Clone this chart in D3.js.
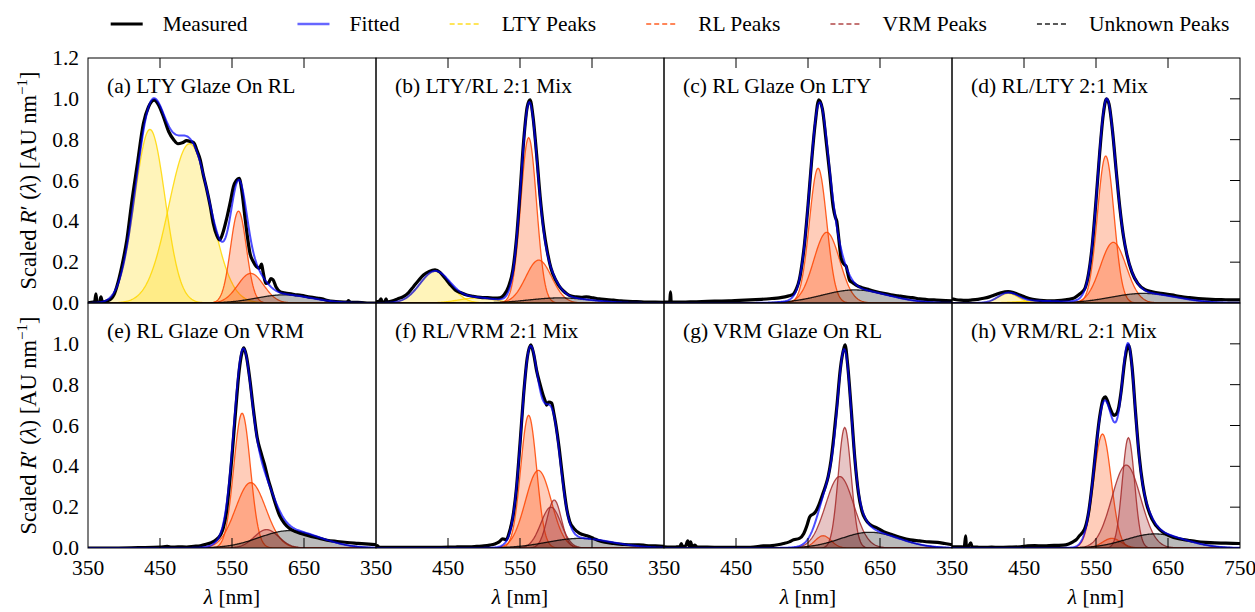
<!DOCTYPE html>
<html>
<head>
<meta charset="utf-8">
<script src="https://cdn.jsdelivr.net/npm/d3@7"></script>
<style>
  body { margin: 0; background: #fff; }
  svg text { font-family: "Liberation Serif", "Times New Roman", serif; fill: #000; }
</style>
</head>
<body>
<svg id="chart" width="1255" height="612"></svg>
<script>
// ---- data ----
var panelTitles = ["(a) LTY Glaze On RL", "(b) LTY/RL 2:1 Mix", "(c) RL Glaze On LTY", "(d) RL/LTY 2:1 Mix",
                   "(e) RL Glaze On VRM", "(f) RL/VRM 2:1 Mix", "(g) VRM Glaze On RL", "(h) VRM/RL 2:1 Mix"];
var xTickValues = [350, 450, 550, 650, 750];
var yTickValues = [0, 0.2, 0.4, 0.6, 0.8, 1.0, 1.2];
var legendLabels = ["Measured", "Fitted", "LTY Peaks", "RL Peaks", "VRM Peaks", "Unknown Peaks"];

// fitted peaks: [type, centre nm, height, width nm]
var peaksA = [["LTY", 436, 0.85, 21], ["LTY", 491, 0.78, 29], ["RL", 559, 0.45, 11], ["RL", 576, 0.145, 18], ["Unknown", 622, 0.04, 38]];
var peaksB = [["LTY", 432, 0.155, 21], ["LTY", 490, 0.025, 25], ["RL", 562, 0.81, 11], ["RL", 576, 0.21, 18], ["Unknown", 605, 0.025, 42]];
var peaksC = [["RL", 564, 0.66, 12], ["RL", 576, 0.346, 18], ["Unknown", 615, 0.064, 45]];
var peaksD = [["LTY", 428, 0.047, 14], ["LTY", 470, 0.01, 30], ["RL", 563.5, 0.72, 11.5], ["RL", 574, 0.297, 18], ["Unknown", 616, 0.047, 45]];
var peaksE = [["RL", 564, 0.66, 11.5], ["RL", 576, 0.32, 21], ["VRM", 598, 0.09, 17], ["Unknown", 630, 0.085, 42]];
var peaksF = [["RL", 562, 0.65, 11], ["RL", 575.5, 0.38, 18], ["VRM", 597.5, 0.235, 10], ["VRM", 593, 0.2, 14], ["Unknown", 633, 0.047, 45]];
var peaksG = [["RL", 571, 0.06, 11], ["VRM", 601, 0.59, 9], ["VRM", 594, 0.35, 19.5], ["Unknown", 636, 0.077, 40]];
var peaksH = [["RL", 559, 0.558, 12], ["RL", 572, 0.047, 13], ["VRM", 595, 0.54, 8.5], ["VRM", 592, 0.406, 20], ["Unknown", 632, 0.069, 40]];

// measured spectra: [nm, value]
var measuredA = [[350,0],[357,0.005],[359,0],[361,0.045],[362.5,0],[366,0.005],[368,0.03],[370,0.005],[376,0.01],[382,0.02],[386,0.04],[390,0.08],[397,0.18],[404,0.31],[411,0.5],[418,0.667],[427,0.88],[434,0.96],[442,0.994],[448,0.97],[455,0.91],[462,0.84],[469,0.8],[475,0.78],[481,0.785],[487,0.795],[493,0.79],[497,0.785],[501,0.75],[506,0.7],[510,0.63],[515,0.555],[520,0.47],[524,0.39],[529,0.33],[533,0.309],[537,0.34],[543,0.42],[548,0.5],[552,0.57],[556,0.6],[560,0.61],[564,0.54],[568,0.42],[572,0.31],[575,0.243],[580,0.2],[584,0.178],[588,0.17],[591,0.19],[593,0.155],[597,0.096],[601,0.1],[604,0.12],[607,0.114],[611,0.08],[617,0.055],[622,0.05],[626,0.047],[632,0.045],[638,0.04],[644,0.039],[650,0.035],[656,0.03],[662,0.028],[668,0.024],[675,0.02],[683,0.012],[691,0.008],[700,0.006],[710,0.005],[712,0.012],[714,0.004],[722,0.003],[730,0.002],[740,0],[750,0]];
var measuredB = [[350,0.005],[355,0.01],[357,0.02],[358.5,0.005],[362,0.005],[364,0.02],[365.5,0.005],[372,0.01],[380,0.02],[388,0.031],[395,0.05],[402,0.08],[409,0.11],[416,0.137],[424,0.155],[432,0.162],[439,0.15],[446,0.121],[453,0.09],[460,0.064],[468,0.05],[476,0.039],[485,0.033],[495,0.028],[505,0.026],[515,0.024],[522,0.025],[528,0.04],[534,0.08],[540,0.16],[545,0.31],[550,0.54],[555,0.79],[560,0.96],[564,0.995],[568,0.915],[573,0.73],[578,0.52],[583,0.36],[588,0.25],[593,0.17],[600,0.11],[605,0.08],[610,0.06],[615,0.045],[620,0.035],[628,0.03],[635,0.028],[642,0.03],[647,0.028],[652,0.025],[660,0.02],[670,0.017],[680,0.014],[690,0.01],[700,0.008],[712,0.007],[725,0.005],[738,0.004],[750,0.003]];
var measuredC = [[350,0.005],[355,0.005],[358,0.006],[359,0.055],[360,0.006],[368,0.004],[380,0.005],[395,0.006],[410,0.008],[425,0.009],[440,0.01],[455,0.013],[470,0.015],[485,0.018],[500,0.022],[510,0.025],[518,0.03],[524,0.035],[530,0.045],[534,0.07],[538,0.115],[542,0.2],[545,0.285],[550,0.476],[555,0.695],[560,0.88],[565,0.995],[570,0.95],[575,0.8],[580,0.64],[585,0.47],[588,0.42],[590,0.4],[592,0.34],[596,0.22],[600,0.19],[603,0.18],[605,0.15],[608,0.11],[612,0.1],[618,0.085],[625,0.075],[635,0.065],[645,0.055],[655,0.047],[665,0.04],[675,0.035],[685,0.03],[695,0.026],[705,0.02],[715,0.017],[725,0.015],[735,0.013],[750,0.011]];
var measuredD = [[350,0.02],[356,0.016],[362,0.014],[370,0.013],[378,0.015],[386,0.018],[394,0.023],[402,0.03],[410,0.04],[418,0.05],[428,0.056],[436,0.05],[444,0.039],[452,0.028],[462,0.018],[472,0.013],[482,0.011],[492,0.011],[502,0.013],[512,0.018],[520,0.025],[526,0.04],[531,0.055],[535,0.075],[540,0.15],[545,0.29],[550,0.5],[555,0.73],[560,0.92],[564.5,1],[568,0.975],[573,0.84],[578,0.65],[583,0.47],[588,0.33],[593,0.235],[600,0.15],[608,0.096],[618,0.065],[628,0.055],[640,0.047],[655,0.04],[668,0.031],[680,0.026],[692,0.022],[704,0.019],[716,0.017],[730,0.016],[740,0.015],[750,0.015]];
var measuredE = [[350,0],[380,0],[420,0.002],[450,0.004],[460,0.008],[466,0.004],[475,0.006],[487,0.005],[497,0.008],[506,0.011],[514,0.018],[520,0.025],[526,0.035],[531,0.05],[535,0.07],[538,0.1],[542,0.17],[545,0.26],[550,0.45],[555,0.67],[560,0.87],[564,0.96],[566.5,0.98],[570,0.94],[575,0.82],[580,0.67],[585,0.54],[590,0.47],[595,0.41],[600,0.34],[605,0.28],[610,0.22],[616,0.16],[623,0.12],[630,0.095],[640,0.078],[654,0.063],[668,0.05],[682,0.038],[696,0.032],[710,0.027],[725,0.023],[740,0.019],[750,0.016]];
var measuredF = [[350,0.006],[352,0.012],[354,0.004],[370,0.003],[400,0.003],[430,0.003],[452,0.004],[460,0.005],[470,0.006],[480,0.006],[490,0.008],[500,0.01],[508,0.014],[515,0.02],[521,0.03],[526,0.045],[531,0.04],[535,0.075],[540,0.15],[545,0.29],[550,0.51],[555,0.75],[560,0.93],[565,0.995],[569,0.95],[573,0.87],[578,0.8],[582,0.75],[585,0.72],[587,0.7],[590,0.715],[594,0.71],[597,0.66],[600,0.6],[604,0.5],[608,0.38],[611,0.29],[615,0.19],[619,0.13],[625,0.095],[633,0.072],[643,0.06],[652,0.047],[660,0.035],[668,0.028],[680,0.022],[692,0.018],[705,0.015],[715,0.016],[725,0.012],[738,0.01],[750,0.008]];
var measuredG = [[350,0.006],[358,0.004],[366,0.005],[372,0.006],[374,0.022],[376,0.006],[380,0.01],[383,0.035],[385,0.006],[387,0.03],[389,0.006],[393,0.014],[396,0.004],[410,0.004],[430,0.003],[450,0.003],[470,0.003],[488,0.01],[500,0.012],[508,0.016],[516,0.022],[524,0.03],[530,0.04],[538,0.047],[544,0.07],[549,0.115],[552,0.15],[554,0.16],[557,0.165],[560,0.175],[565,0.21],[570,0.26],[574,0.3],[578,0.35],[582,0.43],[586,0.55],[590,0.69],[595,0.88],[600,0.98],[601.5,0.995],[605,0.9],[610,0.68],[615,0.44],[620,0.27],[625,0.18],[630,0.14],[636,0.115],[645,0.1],[655,0.08],[668,0.064],[680,0.05],[692,0.04],[705,0.035],[718,0.03],[730,0.028],[740,0.022],[750,0.016]];
var measuredH = [[350,0.006],[360,0.006],[367,0.005],[369,0.06],[370,0.005],[373,0.008],[376,0.025],[378,0.005],[385,0.004],[395,0.003],[405,0.004],[415,0.003],[430,0.004],[445,0.006],[455,0.01],[465,0.012],[475,0.01],[485,0.012],[495,0.013],[505,0.014],[512,0.02],[518,0.03],[523,0.042],[527,0.06],[531,0.075],[535,0.1],[540,0.18],[545,0.32],[550,0.49],[555,0.64],[560,0.73],[563,0.74],[566,0.72],[570,0.68],[575,0.65],[578,0.655],[581,0.68],[585,0.77],[590,0.92],[595,0.995],[600,0.89],[605,0.66],[610,0.45],[615,0.31],[620,0.22],[628,0.14],[640,0.085],[652,0.06],[665,0.045],[678,0.038],[690,0.032],[702,0.028],[715,0.025],[728,0.024],[740,0.023],[750,0.022]];

var allPeaks = [peaksA, peaksB, peaksC, peaksD, peaksE, peaksF, peaksG, peaksH];
var allMeasured = [measuredA, measuredB, measuredC, measuredD, measuredE, measuredF, measuredG, measuredH];

// ---- layout ----
var plotLeft = 88, plotTop = 58, panelW = 288, panelH = 245, tickLen = 10;
var fontSize = "21.5px";
var peakColors = { LTY: "#ffd700", RL: "#ff4500", VRM: "#a52a2a", Unknown: "#000000" };

var svg = d3.select("#chart");
var grid = d3.range(350, 750.01, 1);

function peakValue(p, x) {
    return p[2] * Math.exp(-((x - p[1]) * (x - p[1])) / (2 * p[3] * p[3]));
}

var defs = svg.append("defs");

allPeaks.forEach(function (peaks, i) {
    var col = i % 4, row = Math.floor(i / 4);
    var x0 = plotLeft + col * panelW, y0 = plotTop + row * panelH;

    var x = d3.scaleLinear().domain([350, 750]).range([x0, x0 + panelW]);
    var y = d3.scaleLinear().domain([0, 1.2]).range([y0 + panelH, y0]);

    defs.append("clipPath").attr("id", "clip" + i)
        .append("rect").attr("x", x0).attr("y", y0).attr("width", panelW).attr("height", panelH);

    var g = svg.append("g").attr("clip-path", "url(#clip" + i + ")");

    // individual peaks
    peaks.forEach(function (p) {
        var pts = grid.map(function (w) { return [w, peakValue(p, w)]; });
        g.append("path")
            .attr("d", d3.area().x(d => x(d[0])).y0(y(0)).y1(d => y(d[1]))(pts))
            .attr("fill", peakColors[p[0]])
            .attr("fill-opacity", 0.27)
            .attr("stroke", "none");
        g.append("path")
            .attr("d", d3.line().x(d => x(d[0])).y(d => y(d[1]))(pts))
            .attr("fill", "none")
            .attr("stroke", peakColors[p[0]])
            .attr("stroke-opacity", 0.85)
            .attr("stroke-width", 1.3);
    });

    // measured
    g.append("path")
        .datum(allMeasured[i])
        .attr("d", d3.line().x(d => x(d[0])).y(d => y(d[1])).curve(d3.curveMonotoneX))
        .attr("fill", "none")
        .attr("stroke", "#000")
        .attr("stroke-width", 3.2)
        .attr("stroke-linejoin", "round");

    // fitted = sum of peaks
    var fitted = grid.map(function (w) {
        return [w, d3.sum(peaks, function (p) { return peakValue(p, w); })];
    });
    g.append("path")
        .datum(fitted)
        .attr("d", d3.line().x(d => x(d[0])).y(d => y(d[1])))
        .attr("fill", "none")
        .attr("stroke", "#0000ff")
        .attr("stroke-opacity", 0.7)
        .attr("stroke-width", 2);

    // frame
    svg.append("rect")
        .attr("x", x0).attr("y", y0).attr("width", panelW).attr("height", panelH)
        .attr("fill", "none").attr("stroke", "#000").attr("stroke-width", 1);

    // inward ticks on the outer edges only
    var inner = [450, 550, 650];
    if (row === 0) {
        svg.selectAll(null).data(inner).enter().append("line")
            .attr("x1", d => x(d)).attr("x2", d => x(d))
            .attr("y1", y0).attr("y2", y0 + tickLen)
            .attr("stroke", "#000");
    } else {
        svg.selectAll(null).data(inner).enter().append("line")
            .attr("x1", d => x(d)).attr("x2", d => x(d))
            .attr("y1", y0 + panelH).attr("y2", y0 + panelH - tickLen)
            .attr("stroke", "#000");
        var labels = col === 3 ? xTickValues : xTickValues.slice(0, 4);
        svg.selectAll(null).data(labels).enter().append("text")
            .attr("x", d => x(d)).attr("y", 575)
            .attr("text-anchor", "middle").attr("font-size", fontSize)
            .text(d => d);
        var xl = svg.append("text")
            .attr("x", x0 + panelW / 2).attr("y", 604)
            .attr("text-anchor", "middle").attr("font-size", fontSize);
        xl.append("tspan").attr("font-style", "italic").text("λ");
        xl.append("tspan").text(" [nm]");
    }
    if (col === 3) {
        svg.selectAll(null).data([0.2, 0.4, 0.6, 0.8, 1.0]).enter().append("line")
            .attr("x1", x0 + panelW).attr("x2", x0 + panelW - tickLen)
            .attr("y1", d => y(d)).attr("y2", d => y(d))
            .attr("stroke", "#000");
    }
    if (col === 0) {
        var yl = row === 0 ? yTickValues : yTickValues.slice(0, 6);
        svg.selectAll(null).data(yl).enter().append("text")
            .attr("x", x0 - 9).attr("y", d => y(d) + 7)
            .attr("text-anchor", "end").attr("font-size", fontSize)
            .text(d => d3.format(".1f")(d));

        var lab = svg.append("text")
            .attr("transform", "translate(36," + (y0 + panelH / 2) + ") rotate(-90)")
            .attr("text-anchor", "middle").attr("font-size", "22.5px");
        lab.append("tspan").text("Scaled ");
        lab.append("tspan").attr("font-style", "italic").text("R");
        lab.append("tspan").text("′ (");
        lab.append("tspan").attr("font-style", "italic").text("λ");
        lab.append("tspan").text(") [AU nm");
        lab.append("tspan").attr("font-size", "15px").attr("dy", -9).text("−1");
        lab.append("tspan").attr("dy", 9).text("]");
    }

    svg.append("text")
        .attr("x", x0 + 19).attr("y", y0 + 35)
        .attr("font-size", fontSize)
        .text(panelTitles[i]);
});

// ---- legend, centred over the panels ----
var legendStyles = [
    { color: "#000", width: 3, dash: null, opacity: 1 },
    { color: "#0000ff", width: 2.5, dash: null, opacity: 0.6 },
    { color: peakColors.LTY, width: 2, dash: "5,3", opacity: 0.65 },
    { color: peakColors.RL, width: 2, dash: "5,3", opacity: 0.65 },
    { color: peakColors.VRM, width: 2, dash: "5,3", opacity: 0.65 },
    { color: peakColors.Unknown, width: 2, dash: "5,3", opacity: 0.65 }
];
var ly = 24, handle = 32, handleGap = 20, itemGap = 50;
var legend = svg.append("g");
var items = legendLabels.map(function (label, i) {
    var s = legendStyles[i];
    var it = legend.append("g");
    it.append("line")
        .attr("x1", 0).attr("x2", handle).attr("y1", ly).attr("y2", ly)
        .attr("stroke", s.color).attr("stroke-width", s.width)
        .attr("stroke-opacity", s.opacity)
        .attr("stroke-dasharray", s.dash);
    var t = it.append("text")
        .attr("x", handle + handleGap).attr("y", ly + 7)
        .attr("font-size", fontSize)
        .text(label);
    return { g: it, w: handle + handleGap + t.node().getComputedTextLength() };
});
var total = d3.sum(items, d => d.w) + itemGap * (items.length - 1);
var lx = plotLeft + 2 * panelW - total / 2 + 6;
items.forEach(function (it) {
    it.g.attr("transform", "translate(" + lx + ",0)");
    lx += it.w + itemGap;
});
</script>
</body>
</html>
